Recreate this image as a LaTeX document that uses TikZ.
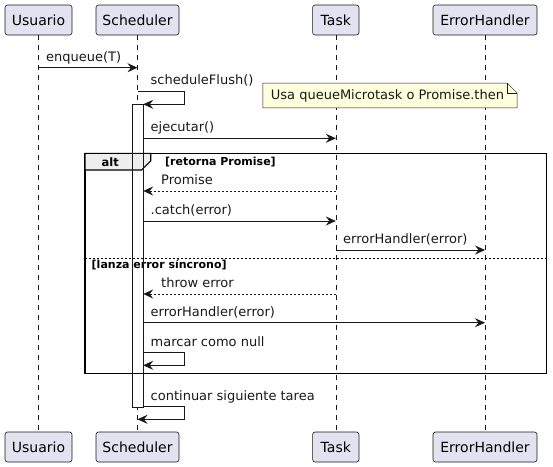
\documentclass[tikz,border=0pt]{standalone}
\usepackage{fontspec}
\setmainfont{DejaVu Sans}
\usetikzlibrary{arrows.meta}
\definecolor{pfill}{HTML}{E2E2F0}
\definecolor{pline}{HTML}{181818}
\definecolor{notefill}{HTML}{FEFFDD}
\definecolor{tabfill}{HTML}{EEEEEE}
\begin{document}
\begin{tikzpicture}[x=1pt,y=-1pt,
  part/.style={draw=pline, fill=pfill, rounded corners=2.5pt, minimum height=30pt, inner sep=0pt, font=\fontsize{14}{16}\selectfont, line width=0.6pt},
  lifeline/.style={draw=pline, line width=0.6pt, dash pattern=on 5pt off 5pt},
  msg/.style={draw=pline, line width=0.9pt, -{Stealth[length=10pt,width=9pt,inset=3.5pt]}},
  ret/.style={msg, dash pattern=on 2pt off 2pt},
  lbl/.style={font=\fontsize{13}{15}\selectfont, inner sep=0pt, anchor=base west, text=pline},
  grp/.style={font=\bfseries\fontsize{11}{13}\selectfont, inner sep=0pt, anchor=base west},
  actbar/.style={minimum width=10.3pt, minimum height=302.4pt, inner sep=0pt}
]
\useasboundingbox (0,0) rectangle (553,466);

% participants
\node[part, minimum width=67pt]   (U1) at (38.5,20) {Usuario};
\node[part, minimum width=83pt]   (S1) at (137.5,20) {Scheduler};
\node[part, minimum width=46.3pt] (T1) at (335.8,20) {Task};
\node[part, minimum width=104pt]  (E1) at (485,20) {ErrorHandler};
\node[part, minimum width=67pt]   (U2) at (38.5,447) {Usuario};
\node[part, minimum width=83pt]   (S2) at (137.5,447) {Scheduler};
\node[part, minimum width=46.3pt] (T2) at (335.8,447) {Task};
\node[part, minimum width=104pt]  (E2) at (485,447) {ErrorHandler};

% lifelines
\draw[lifeline] (U1.south) -- (U2.north);
\draw[lifeline] (S1.south) -- (S2.north);
\draw[lifeline] (T1.south) -- (T2.north);
\draw[lifeline] (E1.south) -- (E2.north);

% activation (fill)
\node[actbar, fill=white] (act) at (137.85,255.5) {};

% alt frame
\draw[line width=1.4pt, draw=black] (85,153.3) rectangle (546.7,373.3);
\draw[line width=1.1pt, draw=black, fill=tabfill] (85,153.3) -- (150.7,153.3) -- (150.7,161) -- (141.7,170) -- (85,170) -- cycle;
\draw[line width=1.4pt, draw=black] (85,153.3) -- (546.7,153.3);
\node[grp, font=\bfseries\fontsize{11.5}{13}\selectfont] (altl) at (101.5,166.3) {alt};
\node[grp] (c1) at (165,165) {[retorna Promise]};
\draw[draw=black, line width=0.8pt, dash pattern=on 2pt off 2pt] (85,258.7) -- (546.7,258.7);
\node[grp] (c2) at (91.5,268.3) {[lanza error síncrono]};

% activation (outline)
\draw[draw=pline, line width=0.8pt] (act.north west) rectangle (act.south east);

% note
\node[inner sep=0pt, minimum width=254pt, minimum height=24.4pt] (note) at (390,95.5) {};
\draw[draw=pline, line width=0.5pt, fill=notefill] (note.north west) -- ([xshift=-10pt]note.north east) -- ([yshift=-10pt]note.north east) -- (note.south east) -- (note.south west) -- cycle;
\draw[draw=pline, line width=0.5pt] ([xshift=-10pt]note.north east) -- ([xshift=-10pt,yshift=-10pt]note.north east) -- ([yshift=-10pt]note.north east);
\node[lbl] (notet) at (270.7,99.8) {Usa queueMicrotask o Promise.then};

% messages
\draw[msg] (U1.south |- 0,67.7) -- (S1.south |- 0,67.7);
\node[lbl] (l1) at (46,61.2) {enqueue(T)};

\draw[msg] (S1.south |- 0,91) -- (184,91) -- (184,104.3) -- (act.east |- 0,104.3);
\node[lbl] (l2) at (150.5,84.5) {scheduleFlush()};

\draw[msg] (act.east |- 0,138.3) -- (T1.south |- 0,138.3);
\node[lbl] (l3) at (150.5,131.8) {ejecutar()};

\draw[ret] (T1.south |- 0,191) -- (act.east |- 0,191);
\node[lbl] (l4) at (161,184.5) {Promise};

\draw[msg] (act.east |- 0,221) -- (T1.south |- 0,221);
\node[lbl] (l5) at (150.5,214.5) {.catch(error)};

\draw[msg] (T1.south |- 0,250) -- (E1.south |- 0,250);
\node[lbl] (l6) at (343,243.5) {errorHandler(error)};

\draw[ret] (T1.south |- 0,294) -- (act.east |- 0,294);
\node[lbl] (l7) at (161,287.5) {throw error};

\draw[msg] (act.east |- 0,322.7) -- (E1.south |- 0,322.7);
\node[lbl] (l8) at (150.5,316.2) {errorHandler(error)};

\draw[msg] (act.east |- 0,352.7) -- (184.3,352.7) -- (184.3,365.3) -- (act.east |- 0,365.3);
\node[lbl] (l9) at (150.5,346.2) {marcar como null};

\draw[msg] (act.east |- 0,406.7) -- (184.3,406.7) -- (184.3,419.3) -- (S1.south |- 0,419.3);
\node[lbl] (l10) at (150.5,400.2) {continuar siguiente tarea};
\end{tikzpicture}
\end{document}
